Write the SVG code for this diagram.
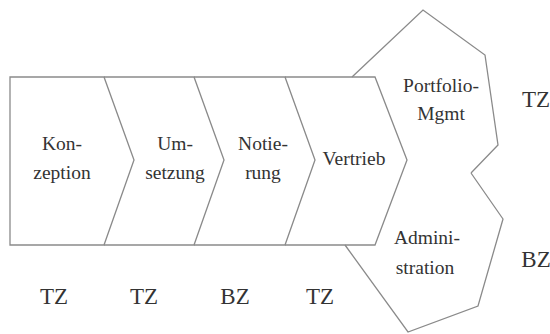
<svg xmlns="http://www.w3.org/2000/svg" width="550" height="334" viewBox="0 0 550 334">
<style>
.s{fill:none;stroke:#8a8a8a;stroke-width:1.3;stroke-linejoin:miter}
text{font-family:'Liberation Serif','DejaVu Serif','Noto Serif','Times New Roman',Times,serif;fill:#333;text-anchor:middle}
.t{font-size:19.5px}
.l{font-size:23px}
</style>
<rect width="550" height="334" fill="#fff"/>
<g id="konzeption">
<polygon class="s" points="10,77 104,77 134,160 104,245 10,245"/>
<text class="t" x="62" y="150">Kon-</text>
<text class="t" x="62" y="179">zeption</text>
</g>
<g id="umsetzung">
<polyline class="s" points="104,77 194,77 224,160 194,245 104,245"/>
<text class="t" x="175" y="150">Um-</text>
<text class="t" x="175" y="179">setzung</text>
</g>
<g id="notierung">
<polyline class="s" points="194,77 285,77 315,160 285,245 194,245"/>
<text class="t" x="263" y="150">Notie-</text>
<text class="t" x="263" y="179">rung</text>
</g>
<g id="vertrieb">
<polyline class="s" points="285,77 375,77 407,160 375,245 285,245"/>
<text class="t" x="354" y="165">Vertrieb</text>
</g>
<g id="portfolio">
<polyline class="s" points="352,77 423,10 485,55 498,145 471,173"/>
<text class="t" x="441" y="92">Portfolio-</text>
<text class="t" x="441" y="120">Mgmt</text>
</g>
<g id="administration">
<polyline class="s" points="471,173 503,219 478,306 408,332 345,245"/>
<text class="t" x="427" y="244">Admini-</text>
<text class="t" x="425" y="274">stration</text>
</g>
<g id="labels">
<text class="l" x="54" y="304">TZ</text>
<text class="l" x="144" y="304">TZ</text>
<text class="l" x="235" y="304">BZ</text>
<text class="l" x="320" y="304">TZ</text>
<text class="l" x="536" y="107">TZ</text>
<text class="l" x="536" y="267">BZ</text>
</g>
<g id="connectors"></g>
</svg>
